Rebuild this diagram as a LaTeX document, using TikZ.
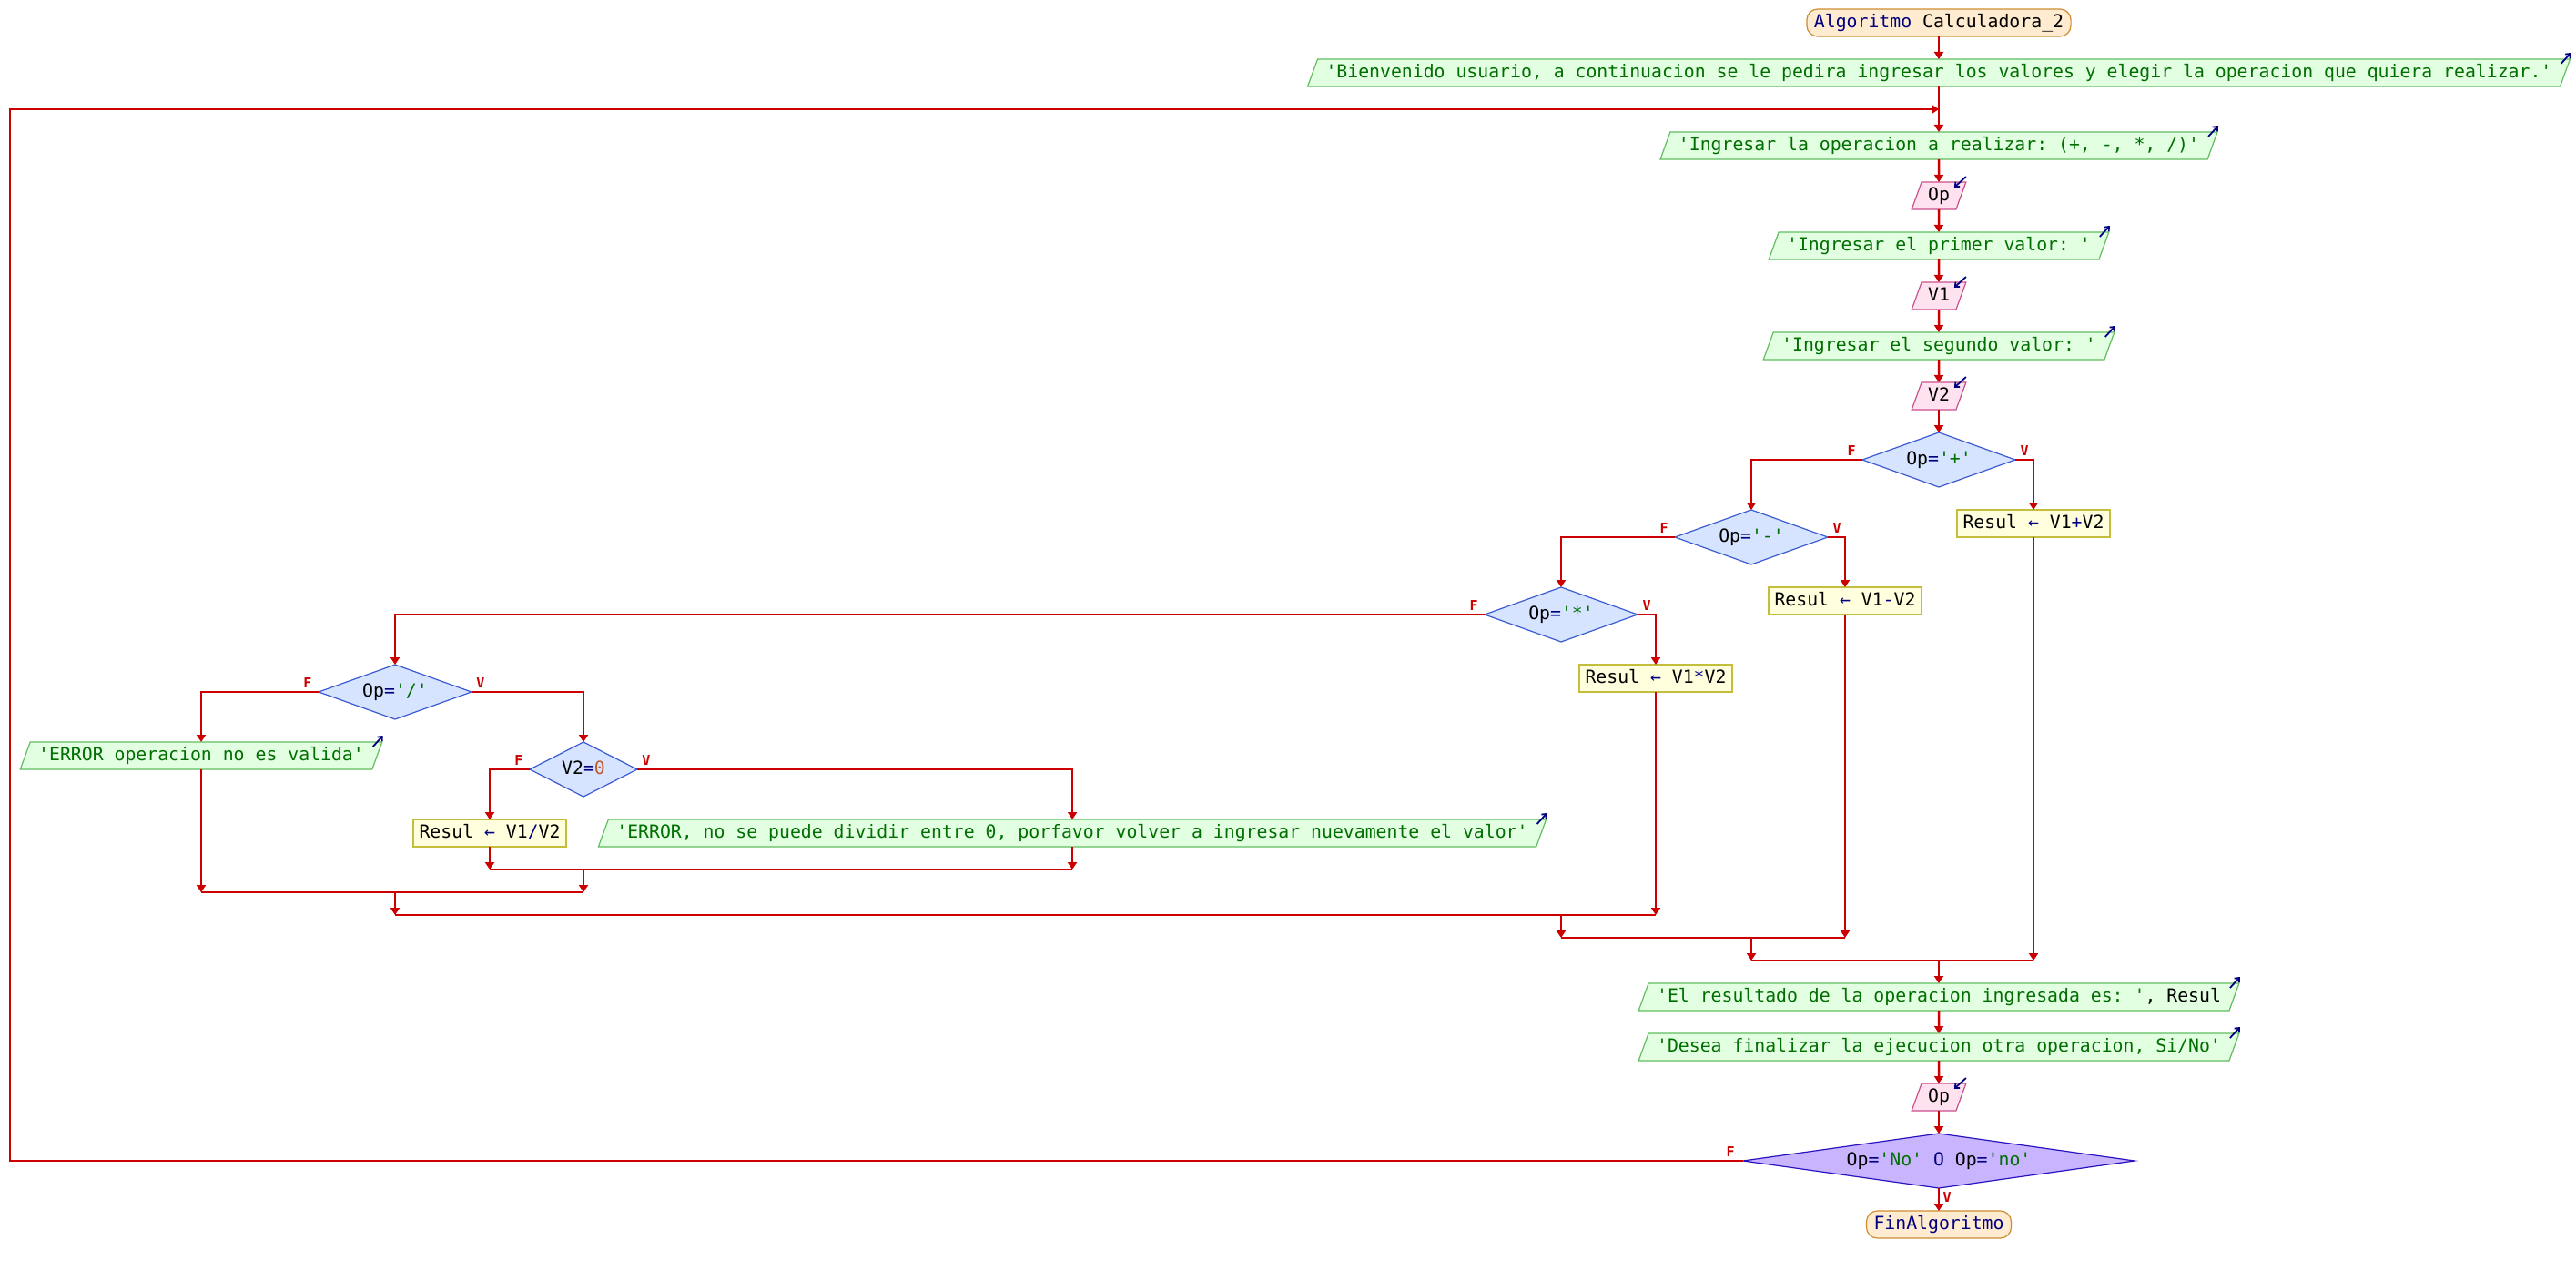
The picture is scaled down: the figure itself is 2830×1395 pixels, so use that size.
\documentclass[tikz,border=0pt]{standalone}
\usepackage{fontspec}
\setmonofont{DejaVu Sans Mono}
\usetikzlibrary{shapes.geometric,arrows.meta}

\definecolor{flowred}{RGB}{204,0,0}
\definecolor{kwblue}{RGB}{0,0,128}
\definecolor{strgreen}{RGB}{0,110,0}
\definecolor{numbrown}{RGB}{190,90,40}
\definecolor{outfill}{RGB}{226,255,226}
\definecolor{outdraw}{RGB}{96,190,96}
\definecolor{infill}{RGB}{255,226,240}
\definecolor{indraw}{RGB}{200,80,140}
\definecolor{asgfill}{RGB}{255,255,221}
\definecolor{asgdraw}{RGB}{196,190,60}
\definecolor{decfill}{RGB}{214,228,255}
\definecolor{decdraw}{RGB}{60,90,210}
\definecolor{endfill}{RGB}{200,180,255}
\definecolor{enddraw}{RGB}{40,20,190}
\definecolor{termfill}{RGB}{255,236,208}
\definecolor{termdraw}{RGB}{205,140,50}

\tikzset{
  base/.style={font=\ttfamily\fontsize{19.8}{22}\selectfont, text height=15pt,
    text depth=4pt, inner ysep=5.5pt, outer sep=0pt, line width=1.2pt},
  term/.style={base, rectangle, rounded corners=12pt, fill=termfill, draw=termdraw, inner xsep=8pt},
  outbox/.style={base, trapezium, trapezium left angle=70, trapezium right angle=110,
    fill=outfill, draw=outdraw, text=strgreen, inner xsep=9pt},
  inbox/.style={base, trapezium, trapezium left angle=70, trapezium right angle=110,
    fill=infill, draw=indraw, inner xsep=7pt},
  asg/.style={base, rectangle, fill=asgfill, draw=asgdraw, inner xsep=6.5pt},
  dectext/.style={base, rectangle, minimum height=60pt, inner sep=0pt},
  decshape/.style={fill=decfill, draw=decdraw, line width=1.2pt},
  endshape/.style={fill=endfill, draw=enddraw, line width=1.2pt},
  flowline/.style={draw=flowred, line width=2.5pt},
  flow/.style={flowline, -{Triangle[length=8pt,width=10pt]}},
  lbl/.style={text=flowred, font=\ttfamily\bfseries\fontsize{15}{15}\selectfont, inner sep=0pt},
  outicon/.style={draw=kwblue, line width=1.8pt, -{Straight Barb[length=4pt,width=7pt]}},
  inicon/.style={outicon},
}

% diamond: name, x, y, half width, shape style, text
\newcommand\decision[6]{%
  \path[#5] (#2-#4,#3) -- (#2,#3-30) -- (#2+#4,#3) -- (#2,#3+30) -- cycle;
  \node[dectext, minimum width={2*#4pt}] (#1) at (#2,#3) {#6};
}
\newcommand\eq{\textcolor{kwblue}{=}}
\newcommand\lit[1]{\textcolor{strgreen}{#1}}
\newcommand\arr{\textcolor{kwblue}{←}}

\begin{document}
\begin{tikzpicture}[x=1pt,y=-1pt]
\fill[white] (0,0) rectangle (2830,1395);
\useasboundingbox (0,0) rectangle (2830,1395);

% main sequence
\node[term] (start) at (2130,25) {\textcolor{kwblue}{Algoritmo} Calculadora\_2};
\node[outbox] (obien) at (2130,80) {'Bienvenido usuario, a continuacion se le pedira ingresar los valores y elegir la operacion que quiera realizar.'};
\coordinate (cloop) at (2130,120);
\node[outbox] (oop) at (2130,160) {'Ingresar la operacion a realizar: (+, -, *, /)'};
\node[inbox] (iop) at (2130,215) {Op};
\node[outbox] (ov1) at (2130,270) {'Ingresar el primer valor: '};
\node[inbox] (iv1) at (2130,325) {V1};
\node[outbox] (ov2) at (2130,380) {'Ingresar el segundo valor: '};
\node[inbox] (iv2) at (2130,435) {V2};

% operator selection
\decision{dplus}{2130}{505}{84}{decshape}{Op\eq\lit{'+'}}
\node[asg] (aplus) at (2234,575) {Resul \arr{} V1\textcolor{kwblue}{+}V2};
\decision{dmin}{1924}{590}{84}{decshape}{Op\eq\lit{'-'}}
\node[asg] (amin) at (2027,660) {Resul \arr{} V1\textcolor{kwblue}{-}V2};
\decision{dmul}{1715}{675}{84}{decshape}{Op\eq\lit{'*'}}
\node[asg] (amul) at (1819,745) {Resul \arr{} V1\textcolor{kwblue}{*}V2};
\decision{ddiv}{434}{760}{84}{decshape}{Op\eq\lit{'/'}}
\node[outbox] (oerr1) at (221,830) {'ERROR operacion no es valida'};
\decision{dv20}{641}{845}{59}{decshape}{V2\eq\textcolor{numbrown}{0}}
\node[asg] (adiv) at (538,915) {Resul \arr{} V1\textcolor{kwblue}{/}V2};
\node[outbox] (oerr2) at (1178,915) {'ERROR, no se puede dividir entre 0, porfavor volver a ingresar nuevamente el valor'};

% join points
\coordinate (j1) at (641,955);
\coordinate (j2) at (434,980);
\coordinate (j3) at (1715,1005);
\coordinate (j4) at (1924,1030);
\coordinate (j5) at (2130,1055);

% result and repeat question
\node[outbox] (ores) at (2130,1095) {'El resultado de la operacion ingresada es: '\textcolor{black}{, Resul}};
\node[outbox] (odes) at (2130,1150) {'Desea finalizar la ejecucion otra operacion, Si/No'};
\node[inbox] (iop2) at (2130,1205) {Op};
\decision{dend}{2130}{1275}{215}{endshape}{Op\eq\lit{'No'} \textcolor{kwblue}{O} Op\eq\lit{'no'}}
\node[term] (fin) at (2130,1345) {\textcolor{kwblue}{FinAlgoritmo}};
\coordinate (lx) at (11,0);

% I/O markers
\foreach \n in {obien,oop,ov1,ov2,oerr1,oerr2,ores,odes}
  \draw[outicon] ([shift={(-10,5)}]\n.top right corner) -- ([shift={(1,-7)}]\n.top right corner);
\foreach \n in {iop,iv1,iv2,iop2}
  \draw[inicon] ([shift={(0,-6)}]\n.top right corner) -- ([shift={(-13,6)}]\n.top right corner);

% straight flow
\draw[flow] (start) -- (obien);
\draw[flowline] (obien) -- (cloop);
\draw[flow] (cloop) -- (oop);
\draw[flow] (oop) -- (iop);
\draw[flow] (iop) -- (ov1);
\draw[flow] (ov1) -- (iv1);
\draw[flow] (iv1) -- (ov2);
\draw[flow] (ov2) -- (iv2);
\draw[flow] (iv2) -- (dplus);

% branches
\draw[flow] (dplus.west) -| (dmin.north);
\draw[flow] (dplus.east) -| (aplus.north);
\draw[flow] (dmin.west) -| (dmul.north);
\draw[flow] (dmin.east) -| (amin.north);
\draw[flow] (dmul.west) -| (ddiv.north);
\draw[flow] (dmul.east) -| (amul.north);
\draw[flow] (ddiv.west) -| (oerr1.north);
\draw[flow] (ddiv.east) -| (dv20.north);
\draw[flow] (dv20.west) -| (adiv.north);
\draw[flow] (dv20.east) -| (oerr2.north);

% merges
\draw[flow] (adiv) -- (adiv |- j1);
\draw[flow] (oerr2) -- (oerr2 |- j1);
\draw[flowline] (adiv |- j1) -- (oerr2 |- j1);
\draw[flow] (j1) -- (j1 |- j2);
\draw[flow] (oerr1) -- (oerr1 |- j2);
\draw[flowline] (oerr1 |- j2) -- (j1 |- j2);
\draw[flow] (j2) -- (j2 |- j3);
\draw[flow] (amul) -- (amul |- j3);
\draw[flowline] (j2 |- j3) -- (amul |- j3);
\draw[flow] (j3) -- (j3 |- j4);
\draw[flow] (amin) -- (amin |- j4);
\draw[flowline] (j3 |- j4) -- (amin |- j4);
\draw[flow] (j4) -- (j4 |- j5);
\draw[flow] (aplus) -- (aplus |- j5);
\draw[flowline] (j4 |- j5) -- (aplus |- j5);
\draw[flow] (j5) -- (ores);

\draw[flow] (ores) -- (odes);
\draw[flow] (odes) -- (iop2);
\draw[flow] (iop2) -- (dend);
\draw[flow] (dend) -- (fin);
\draw[flow] (dend.west) -- (dend.west -| lx) |- (cloop);

% branch labels
\foreach \d in {dplus,dmin,dmul,ddiv,dv20}{
  \node[lbl] (f\d) at ([shift={(-12,-10)}]\d.west) {F};
  \node[lbl] (v\d) at ([shift={(10,-10)}]\d.east) {V};
}
\node[lbl] (fdend) at ([shift={(-14,-10)}]dend.west) {F};
\node[lbl] (vdend) at ([shift={(9,10)}]dend.south) {V};
\end{tikzpicture}
\end{document}
